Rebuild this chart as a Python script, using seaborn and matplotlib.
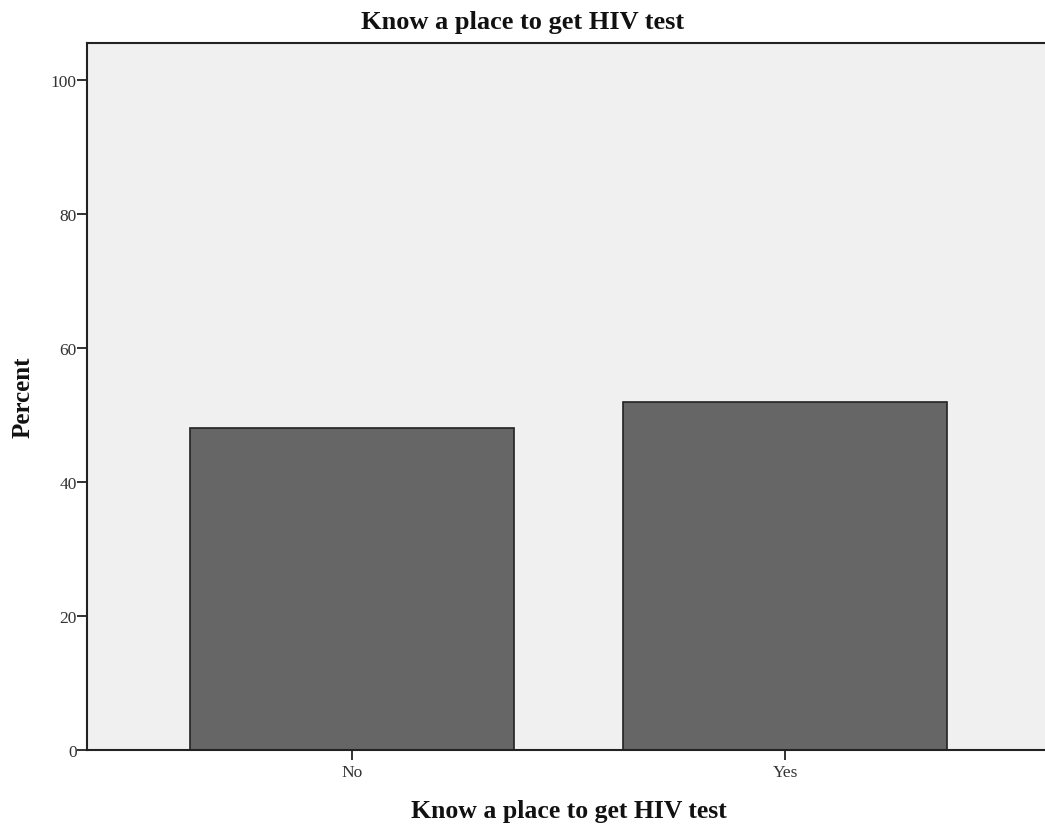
import matplotlib
matplotlib.use("Agg")
import matplotlib.pyplot as plt
import seaborn as sns
import pandas as pd

categories = ["No", "Yes"]
percent = [48.1, 51.9]

title = "Know a place to get HIV test"
x_label = "Know a place to get HIV test"
y_label = "Percent"
y_ticks = [0, 20, 40, 60, 80, 100]

df = pd.DataFrame({"answer": categories, "percent": percent})

sns.set_theme(style="white")
plt.rcParams["font.family"] = ["Liberation Serif", "DejaVu Serif"]

W, H = 1045, 829
fig = plt.figure(figsize=(W / 100, H / 100), dpi=100)
ax = fig.add_axes([87 / W, 1 - 751 / H, (1050 - 87) / W, (751 - 44) / H])
ax.set_facecolor("#f0f0f0")

sns.barplot(data=df, x="answer", y="percent", color="#666666", saturation=1,
            width=0.75, edgecolor="#222222", linewidth=1.2, ax=ax)

ax.set_xlim(-0.612, 1.612)
ax.set_ylim(0, 105.5)
ax.set_yticks(y_ticks)
ax.set_yticklabels([str(t) for t in y_ticks], fontsize=12.5)
ax.set_xticks(range(len(categories)))
ax.set_xticklabels(categories, fontsize=12.5)
ax.tick_params(axis="both", direction="out", length=7, width=1.3, color="#222222",
               labelcolor="#333333", left=True, bottom=True)
ax.tick_params(axis="y", pad=0.5)
ax.tick_params(axis="x", pad=3)

for side in ["left", "bottom", "top"]:
    ax.spines[side].set_visible(True)
    ax.spines[side].set_color("#222222")
    ax.spines[side].set_linewidth(1.5)
ax.spines["right"].set_visible(False)

ax.set_xlabel(x_label, fontsize=18.5, fontweight="bold", color="#111111")
ax.xaxis.label.set_va("baseline")
ax.xaxis.set_label_coords(0.5, (751 - 818) / 707)

ax.set_ylabel(y_label, fontsize=18, fontweight="bold", color="#111111")
ax.yaxis.set_label_coords((35 - 87) / 963, 0.5)

fig.text(0.5, 1 - 29 / H, title, ha="center", va="baseline",
         fontsize=19, fontweight="bold", color="#111111")

fig.savefig("out.png", dpi=100)
